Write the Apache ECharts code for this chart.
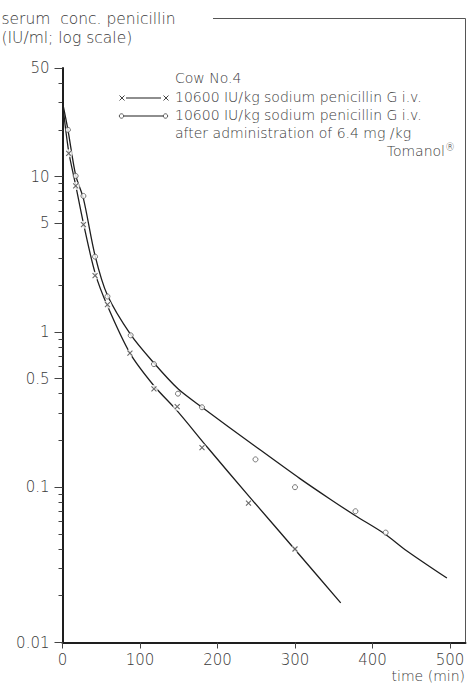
<!DOCTYPE html>
<html>
<head>
<meta charset="utf-8">
<script src="https://cdn.jsdelivr.net/npm/echarts@6/dist/echarts.min.js"></script>
<style>
html,body{margin:0;padding:0;background:#fff;}
#chart{width:469px;height:684px;}
</style>
</head>
<body>
<div id="chart"></div>
<script>
// ---- data (time in min, concentration in IU/ml) ----
const xTimes  = [8, 17, 27, 42, 58, 87, 118, 148, 180, 240, 300];
const xValues = [14.1, 8.7, 4.9, 2.3, 1.5, 0.73, 0.43, 0.33, 0.18, 0.079, 0.040];

const oTimes  = [7, 17, 27, 42, 58, 88, 118, 149, 180, 249, 300, 378, 417];
const oValues = [20, 10.1, 7.5, 3.05, 1.69, 0.95, 0.62, 0.40, 0.327, 0.151, 0.10, 0.070, 0.051];

// fitted curves
const xFitTimes  = [0, 8, 17, 27, 42, 58, 87, 118, 148, 188, 241, 306, 359];
const xFitValues = [30, 14.5, 8.8, 5.0, 2.4, 1.47, 0.73, 0.45, 0.31, 0.178, 0.087, 0.0366, 0.018];

const oFitTimes  = [0, 7, 17, 27, 42, 58, 88, 118, 149, 180, 249, 306, 345, 377, 416, 444, 496];
const oFitValues = [30, 20, 10.2, 7.2, 3.1, 1.72, 0.96, 0.63, 0.43, 0.327, 0.183, 0.114, 0.084, 0.066, 0.050, 0.039, 0.026];

// axis ticks
const xTickLabels = [0, 100, 200, 300, 400, 500];
const yMajorTicks = [0.01, 0.1, 0.5, 1, 5, 10, 50];
const yMinorTicks = [0.02, 0.03, 0.04, 0.05, 0.06, 0.07, 0.08, 0.09,
                     0.2, 0.3, 0.4, 0.6, 0.7, 0.8, 0.9,
                     2, 3, 4, 6, 7, 8, 9, 20, 30, 40];

const titleLines = ['serum  conc. penicillin', '(IU/ml; log scale)'];
const legendHead = 'Cow No.4';
const legendRow1 = '10600 IU/kg sodium penicillin G i.v.';
const legendRow2 = ['10600 IU/kg sodium penicillin G i.v.', 'after administration of 6.4 mg /kg'];
const xName = 'time (min)';

// ---- build ----
const L = Math.log10;
const pairs = (ts, vs) => ts.map((t, i) => [t, L(vs[i])]);
const FONT = '"DejaVu Sans", sans-serif';
const TXT = '#3a3a3a';
const INK = '#1e1e1e';

const chart = echarts.init(document.getElementById('chart'), null, {renderer: 'svg'});

const xSym = 'path://M0,0L10,10M10,0L0,10';
const LEG_FONT = '200 14px ' + FONT;
const txtStyle = s => ({text: s, font: LEG_FONT, fill: TXT});
const cross = (cx, cy, r) => [
  {type: 'line', shape: {x1: cx - r, y1: cy - r, x2: cx + r, y2: cy + r}, style: {stroke: '#444', lineWidth: 1}},
  {type: 'line', shape: {x1: cx + r, y1: cy - r, x2: cx - r, y2: cy + r}, style: {stroke: '#444', lineWidth: 1}}
];

chart.setOption({
  animation: false,
  backgroundColor: '#fff',
  title: {
    text: titleLines.join('\n'),
    left: 1.5, top: 9, padding: 0,
    textStyle: {fontFamily: FONT, fontSize: 15.5, fontWeight: 200, color: TXT, lineHeight: 19}
  },
  grid: {left: 62.5, right: 3.5, top: 68, bottom: 41.5, containLabel: false, outerBoundsMode: 'none'},
  xAxis: {
    type: 'value', min: 0, max: 520,
    axisLine: {show: true, onZero: false, lineStyle: {color: INK, width: 2}},
    axisTick: {show: true, length: 6, customValues: xTickLabels, lineStyle: {color: '#444', width: 1}},
    axisLabel: {customValues: xTickLabels, margin: 11, lineHeight: 13,
                fontFamily: FONT, fontSize: 15, fontWeight: 200, color: TXT},
    splitLine: {show: false}
  },
  yAxis: [{
    type: 'value', min: L(0.01), max: L(50),
    axisLine: {show: true, onZero: false, lineStyle: {color: INK, width: 2}},
    axisTick: {show: true, length: 8, customValues: yMajorTicks.map(L), lineStyle: {color: '#444', width: 1}},
    axisLabel: {
      customValues: yMajorTicks.map(L), margin: 13,
      fontFamily: FONT, fontSize: 15, fontWeight: 200, color: TXT,
      formatter: v => String(parseFloat(Math.pow(10, v).toPrecision(2)))
    },
    splitLine: {show: false}
  }, {
    type: 'value', min: L(0.01), max: L(50), position: 'left',
    axisLine: {show: false, onZero: false},
    axisTick: {show: true, length: 4, customValues: yMinorTicks.map(L), lineStyle: {color: '#444', width: 1}},
    axisLabel: {show: false},
    splitLine: {show: false}
  }],
  series: [
    {
      type: 'line', name: 'fit i.v.', data: pairs(xFitTimes, xFitValues),
      smooth: 0.3, showSymbol: false, symbol: 'none', z: 2,
      lineStyle: {color: INK, width: 1.3}
    },
    {
      type: 'line', name: 'fit Tomanol', data: pairs(oFitTimes, oFitValues),
      smooth: 0.3, showSymbol: false, symbol: 'none', z: 2,
      lineStyle: {color: INK, width: 1.3}
    },
    { // white gaps of the line around the x marks
      type: 'scatter', data: pairs(xTimes, xValues), symbol: 'circle', symbolSize: 8, z: 3,
      itemStyle: {color: '#fff'}, silent: true
    },
    {
      type: 'scatter', name: legendRow1, data: pairs(xTimes, xValues),
      symbol: xSym, symbolSize: 5, z: 4,
      itemStyle: {color: 'rgba(0,0,0,0)', borderColor: '#444', borderWidth: 1.1}
    },
    {
      type: 'scatter', name: legendRow2[0], data: pairs(oTimes, oValues),
      symbol: 'circle', symbolSize: 5, z: 4,
      itemStyle: {color: '#fff', borderColor: '#555', borderWidth: 1}
    }
  ],
  graphic: [
    // frame line from the title to the right edge and down
    {type: 'polyline', shape: {points: [[213, 18.5], [465.5, 18.5], [465.5, 642]]},
     style: {stroke: '#555', lineWidth: 1, fill: null}, z: 1},
    // x axis name
    {type: 'text', x: 465, y: 683, style: {text: xName, font: '200 14px ' + FONT, fill: TXT, align: 'right', verticalAlign: 'bottom'}},
    // legend
    {type: 'group', left: 0, top: 0, children: [].concat(
      [{type: 'rect', shape: {x: 0, y: 0, width: 1, height: 1}, style: {fill: 'rgba(0,0,0,0)'}}],
      [{type: 'line', shape: {x1: 126, y1: 98, x2: 161, y2: 98}, style: {stroke: INK, lineWidth: 1.2}}],
      cross(122, 98, 2.5), cross(166, 98, 2.5),
      [{type: 'line', shape: {x1: 124, y1: 116, x2: 163, y2: 116}, style: {stroke: INK, lineWidth: 1.2}},
       {type: 'circle', shape: {cx: 121.5, cy: 116, r: 2.2}, style: {stroke: '#555', lineWidth: 1, fill: '#fff'}},
       {type: 'circle', shape: {cx: 165.5, cy: 116, r: 2.2}, style: {stroke: '#555', lineWidth: 1, fill: '#fff'}}]
    )},
    {type: 'text', x: 175, y: 71, style: txtStyle(legendHead)},
    {type: 'text', x: 175, y: 90, style: txtStyle(legendRow1)},
    {type: 'text', x: 175, y: 108, style: txtStyle(legendRow2[0])},
    {type: 'text', x: 175, y: 126, style: txtStyle(legendRow2[1])},
    {type: 'text', x: 455, y: 142, style: {
      text: 'Tomanol{sup|®}', font: LEG_FONT, fill: TXT, align: 'right',
      rich: {sup: {fontSize: 10, fontWeight: 200, fontFamily: FONT, fill: TXT, padding: [0, 0, 7, 0]}}
    }}
  ]
});
</script>
</body>
</html>
